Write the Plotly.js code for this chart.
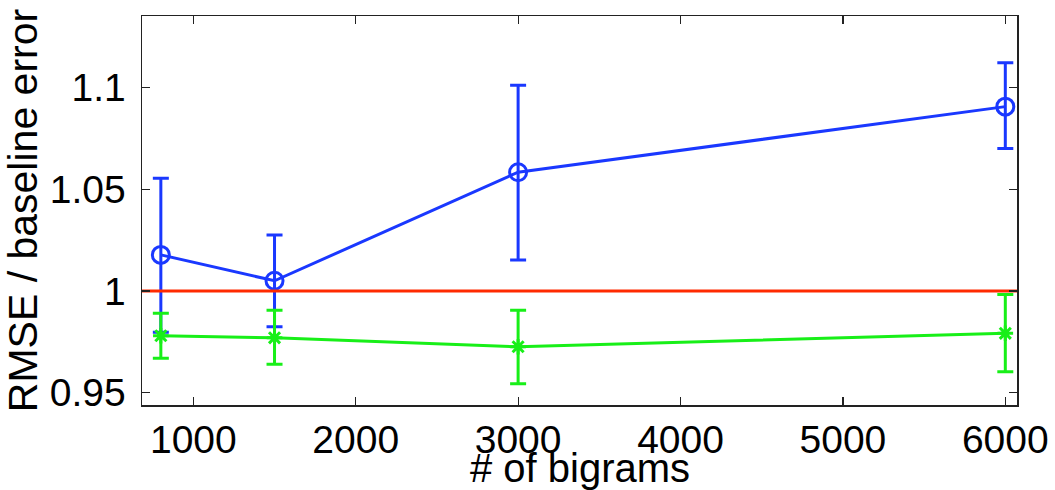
<!DOCTYPE html>
<html>
<head>
<meta charset="utf-8">
<script src="https://cdn.plot.ly/plotly-3.0.1.min.js"></script>
<style>
html,body{margin:0;padding:0;background:#fff;}
#chart{width:1055px;height:490px;}
</style>
</head>
<body>
<div id="chart"></div>
<script>
// Data
const bigrams = [800, 1500, 3000, 6000];

const blueMean  = [1.0177, 1.0050, 1.0583, 1.0905];
const blueUpper = [1.0553, 1.0275, 1.1010, 1.1120];
const blueLower = [0.9797, 0.9824, 1.0152, 1.0700];

const greenMean  = [0.9780, 0.9770, 0.9726, 0.9792];
const greenUpper = [0.9890, 0.9905, 0.9905, 0.9983];
const greenLower = [0.9670, 0.9640, 0.9544, 0.9603];

const baselineValue = 1;
const xRange = [684, 6072];
const yRange = [0.944, 1.135];

const xTicks = [1000, 2000, 3000, 4000, 5000, 6000];
const yTicks = [0.95, 1, 1.05, 1.1];
const yTickText = ['0.95', '1', '1.05', '1.1'];

const xTitle = '# of bigrams';
const yTitle = 'RMSE / baseline error';

const blue = '#1a38ff';
const green = '#18ef18';
const red = '#ff2a00';

function plus(upper, mean) { return upper.map((u, i) => u - mean[i]); }
function minus(lower, mean) { return lower.map((l, i) => mean[i] - l); }

const traces = [
  {
    x: bigrams, y: blueMean, type: 'scatter', mode: 'lines+markers',
    line: {color: blue, width: 3},
    marker: {symbol: 'circle-open', size: 17, color: blue, line: {width: 3, color: blue}},
    error_y: {type: 'data', symmetric: false, array: plus(blueUpper, blueMean),
              arrayminus: minus(blueLower, blueMean), color: blue, thickness: 3, width: 8},
    showlegend: false, hoverinfo: 'x+y'
  },
  {
    x: xRange, y: xRange.map(() => baselineValue), type: 'scatter', mode: 'lines',
    line: {color: red, width: 3}, showlegend: false, hoverinfo: 'y'
  },
  {
    x: bigrams, y: greenMean, type: 'scatter', mode: 'lines+markers',
    line: {color: green, width: 3},
    marker: {symbol: 'asterisk-open', size: 13, color: green, line: {width: 3, color: green}},
    error_y: {type: 'data', symmetric: false, array: plus(greenUpper, greenMean),
              arrayminus: minus(greenLower, greenMean), color: green, thickness: 3, width: 8},
    showlegend: false, hoverinfo: 'x+y'
  }
];

const fontFamily = 'Liberation Sans, Arial, Helvetica, sans-serif';

const layout = {
  width: 1055, height: 490,
  paper_bgcolor: '#ffffff', plot_bgcolor: '#ffffff',
  margin: {l: 142, r: 38, t: 16, b: 85, pad: 0},
  font: {family: fontFamily, size: 39, color: '#000'},
  xaxis: {
    range: xRange, tickvals: xTicks, ticktext: xTicks.map(String),
    ticks: 'inside', ticklen: 8, tickwidth: 1.2, tickcolor: '#222',
    showline: true, linecolor: '#222', linewidth: 1.5, mirror: 'ticks',
    showgrid: false, zeroline: false,
    tickfont: {family: fontFamily, size: 39, color: '#000'}
  },
  yaxis: {
    range: yRange, tickvals: yTicks, ticktext: yTickText,
    ticks: 'inside', ticklen: 8, tickwidth: 1.2, tickcolor: '#222',
    showline: true, linecolor: '#222', linewidth: 1.5, mirror: 'ticks',
    showgrid: false, zeroline: false, ticklabelstandoff: 7,
    tickfont: {family: fontFamily, size: 39, color: '#000'},
    title: {text: yTitle, font: {family: fontFamily, size: 41, color: '#000'}, standoff: 4}
  },
  annotations: [{
    text: xTitle, xref: 'paper', yref: 'paper', x: 0.5, y: -0.101,
    xanchor: 'center', yanchor: 'top', showarrow: false,
    font: {family: fontFamily, size: 40, color: '#000'}
  }]
};

Plotly.newPlot('chart', traces, layout, {displayModeBar: false, staticPlot: true});
</script>
</body>
</html>
